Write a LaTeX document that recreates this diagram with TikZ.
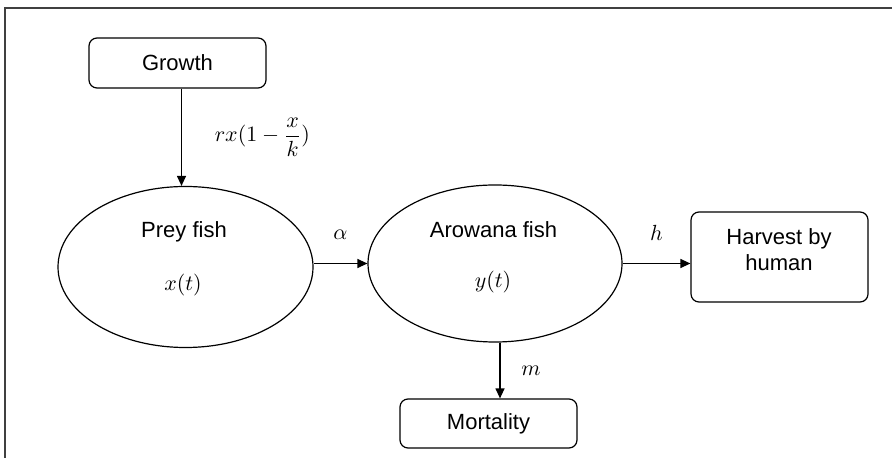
\documentclass[tikz,border=0pt]{standalone}
\usepackage{amsmath}
\usepackage[no-math]{fontspec}
\setmainfont{Liberation Sans}
\usepackage{tikz}
\usetikzlibrary{shapes.geometric,arrows.meta,calc}

\tikzset{
	box/.style={draw=black,rounded corners=4pt,minimum width=88.5pt,minimum height=25pt,inner sep=0pt},
	pool/.style={shape=ellipse,draw=black,inner sep=0pt},
}

\begin{document}
\begin{tikzpicture}[x=0.5pt,y=-0.5pt,font=\fontsize{11}{13}\selectfont,line width=0.6pt,
	>={Triangle[length=5pt,width=4.5pt]}]
	\useasboundingbox (0,0) rectangle (892,458);

	% frame, only top and left edge visible
	\coordinate (framebl) at (5,458);
	\coordinate (frametr) at (892,8);
	\draw[line width=1pt,black!75] (framebl) |- (frametr);

	\node[box] (growth) at (177.5, 63) {Growth};
	\node[pool,minimum width=127.5pt,minimum height=80.5pt] (prey) at (185.5, 267) {};
	\node[pool,minimum width=127pt,minimum height=78.5pt] (arowana) at (495, 263.5) {};
	\node[box,minimum height=45pt] (harvest) at (779.5, 257) {};
	\node[box,minimum height=24.5pt] (mortality) at (488.5, 423.5) {Mortality};

	\node (preyname) at (184, 232) {Prey fish};
	\node (preyvar) at (183, 285) {$x(t)$};
	\node (arowname) at (493.5, 230) {Arowana fish};
	\node (arowvar) at (493, 282) {$y(t)$};
	\node[align=center] (harvestname) at (779, 250) {Harvest by\\human};

	\coordinate (gbot) at ($(growth.south)+(2pt,0)$);
	\coordinate (mtop) at ($(arowana.south)+(2.5pt,0)$);

	\path[->] (gbot) edge node[right=13pt]{$rx(1-\dfrac{x}{k})$} (gbot |- prey.north);
	\path[->] (prey.east |- arowana.center) edge node[above=8.5pt]{$\alpha$} (arowana.west);
	\path[->] (arowana.east) edge node[above=8pt]{$h$} (arowana.east -| harvest.west);
	\path[->] (mtop) edge node[right=7pt]{$m$} (mtop |- mortality.north);
\end{tikzpicture}
\end{document}
